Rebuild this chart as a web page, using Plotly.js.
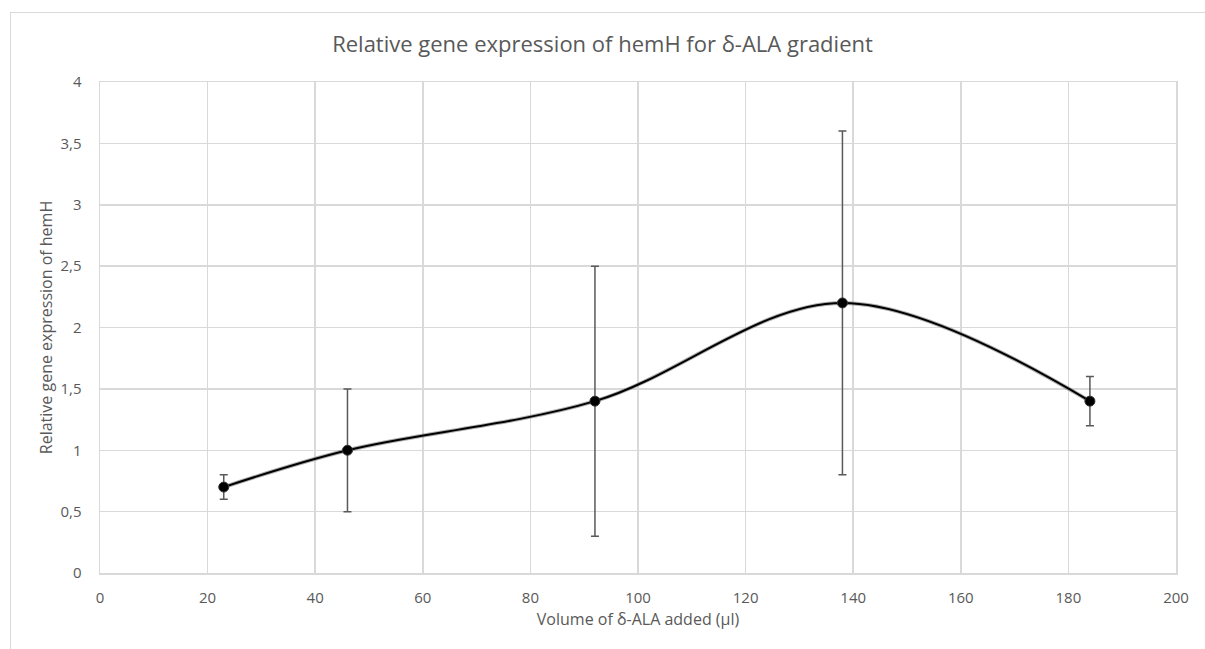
<!DOCTYPE html>
<html>
<head>
<meta charset="utf-8">
<script src="https://cdn.plot.ly/plotly-3.0.1.min.js"></script>
<style>
html,body{margin:0;padding:0;background:#fff;overflow:hidden;}
#frame{position:absolute;left:10px;top:12px;width:1300px;height:700px;border:1px solid #d9d9d9;box-sizing:border-box;}
#chart{position:absolute;left:0;top:0;width:1205px;height:649px;}
</style>
</head>
<body>
<div id="frame"></div>
<div id="chart"></div>
<script>
const volumes = [23, 46, 92, 138, 184];
const expression = [0.7, 1.0, 1.4, 2.2, 1.4];
const errors = [0.1, 0.5, 1.1, 1.4, 0.2];
const yTicks = [0, 0.5, 1, 1.5, 2, 2.5, 3, 3.5, 4];
const xTicks = [0, 20, 40, 60, 80, 100, 120, 140, 160, 180, 200];

const font = "'Open Sans', 'Liberation Sans', sans-serif";
const grey = '#595959';

const shadow = {
  x: volumes, y: expression, type: 'scatter', mode: 'lines',
  line: {shape: 'spline', color: 'rgba(120,120,120,0.6)', width: 4},
  hoverinfo: 'skip', showlegend: false
};
const main = {
  x: volumes, y: expression, type: 'scatter', mode: 'lines+markers',
  line: {shape: 'spline', color: '#000000', width: 2},
  marker: {symbol: 'circle', size: 10, color: '#000000', line: {color: '#333', width: 1}},
  error_y: {type: 'data', array: errors, visible: true, color: grey, thickness: 1.5, width: 4},
  showlegend: false
};

const layout = {
  width: 1205, height: 649,
  paper_bgcolor: 'rgba(0,0,0,0)', plot_bgcolor: '#ffffff',
  margin: {l: 100, r: 29, t: 82, b: 76},
  separators: ', ',
  font: {family: font, color: grey, size: 15},
  title: {text: 'Relative gene expression of hemH for δ-ALA gradient', font: {family: font, size: 22, color: grey}, x: 0.5, xanchor: 'center', y: 0.932, yanchor: 'middle'},
  xaxis: {
    range: [0, 200], tickvals: xTicks, ticktext: xTicks.map(String),
    showgrid: true, gridcolor: '#d9d9d9', gridwidth: 1.5,
    showline: true, linecolor: '#d9d9d9', linewidth: 1.5, mirror: true,
    zeroline: false, ticks: '', ticklen: 0, ticklabelstandoff: 10,
    tickfont: {family: font, size: 15, color: grey},
    title: {text: 'Volume of δ-ALA added (µl)', font: {family: font, size: 16, color: grey}, standoff: 8}
  },
  yaxis: {
    range: [0, 4], tickvals: yTicks, ticktext: yTicks.map(v => String(v).replace('.', ',')),
    showgrid: true, gridcolor: '#d9d9d9', gridwidth: 1.5,
    showline: true, linecolor: '#d9d9d9', linewidth: 1.5, mirror: true,
    zeroline: false, ticks: '', ticklen: 0, ticklabelstandoff: 14,
    tickfont: {family: font, size: 15, color: grey},
    title: {text: 'Relative gene expression of hemH', font: {family: font, size: 16, color: grey}, standoff: 4}
  }
};

Plotly.newPlot('chart', [shadow, main], layout, {displayModeBar: false, staticPlot: true});
</script>
</body>
</html>
